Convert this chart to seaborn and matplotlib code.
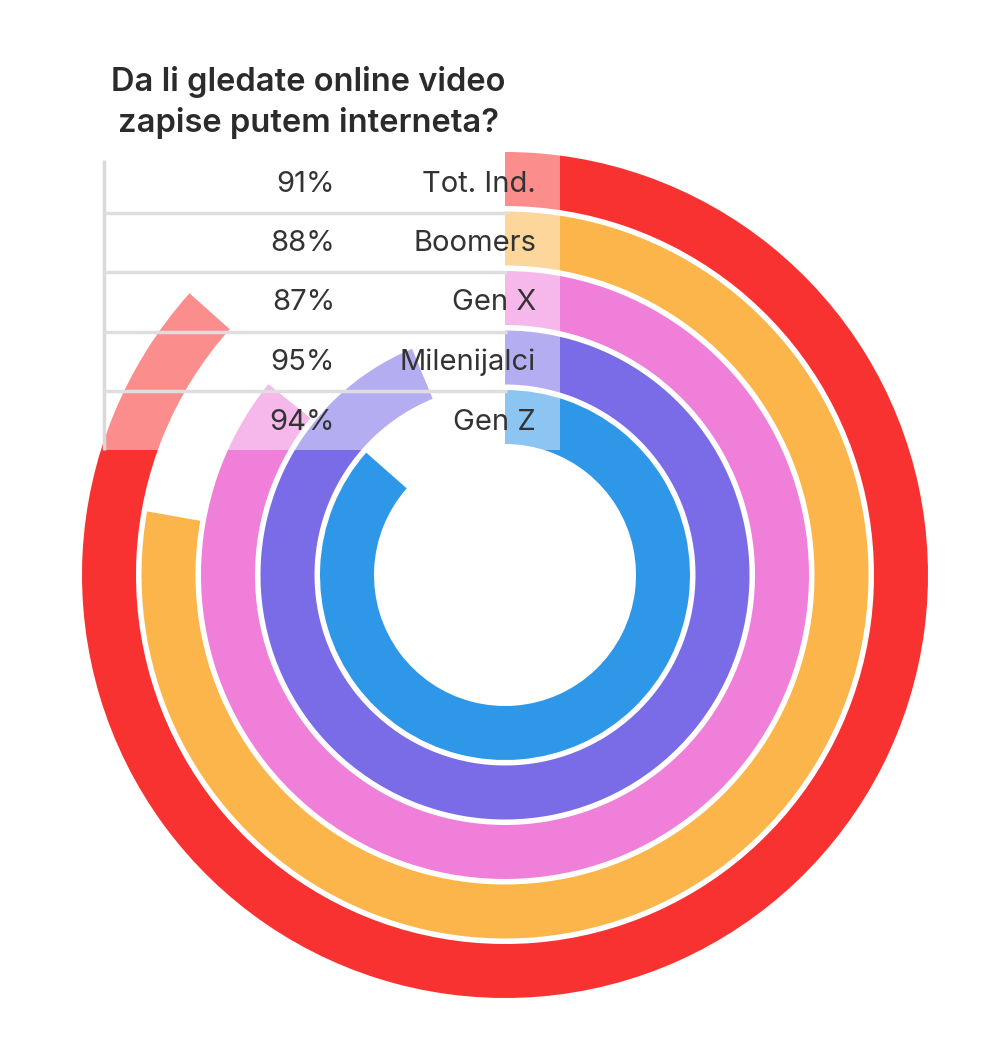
"""
Radial bar chart: Da li gledate online video zapise putem interneta?
"""
import numpy as np
import matplotlib.pyplot as plt
import seaborn as sns
from matplotlib.patches import Rectangle

# Data
categories = ['Tot. Ind.', 'Boomers', 'Gen X', 'Milenijalci', 'Gen Z']
shares = [91, 88, 87, 95, 94]                     # printed values (%)
arc_pct = [86.6, 77.8, 85.8, 93.8, 86.5]          # arc length as drawn (% of full circle)
ring_hex = ['#F83230', '#FBB54A', '#F07FD9', '#7A6BE6', '#2F97E8']
title_lines = ['Da li gledate online video', 'zapise putem interneta?']

sns.set_theme(style='white')
plt.rcParams['font.family'] = ['Inter', 'DejaVu Sans']
palette = sns.color_palette(ring_hex)

W, H = 1000, 1060
cx, cy = 505, 575          # ring centre in pixels (from top-left)
rmax = 430
r_out0, pitch, band = 423, 59.5, 54

fig = plt.figure(figsize=(W / 100, H / 100), dpi=100)
fig.patch.set_facecolor('white')

# Rings on a polar axis
ax = fig.add_axes([(cx - rmax) / W, (H - cy - rmax) / H, 2 * rmax / W, 2 * rmax / H],
                  projection='polar')
ax.set_theta_zero_location('N')
ax.set_theta_direction(-1)
ax.set_ylim(0, rmax)
r_mid = [r_out0 - i * pitch - band / 2 for i in range(len(categories))]
ax.barh(r_mid, np.deg2rad(np.array(arc_pct) * 3.6), height=band, left=0,
        color=palette, edgecolor='none', align='center')
ax.axis('off')

# Table overlay in pixel coordinates
ov = fig.add_axes([0, 0, 1, 1], zorder=5)
ov.set_xlim(0, W)
ov.set_ylim(H, 0)
ov.axis('off')
ov.patch.set_alpha(0)

top, bottom = 150, 450
ov.add_patch(Rectangle((104, top), 560 - 104, bottom - top,
                       facecolor='white', alpha=0.45, edgecolor='none'))
ov.plot([104, 104], [160, bottom], color='#d9d9d9', lw=2.5, solid_capstyle='butt')
for i in range(1, len(categories)):
    yb = cy - (r_out0 - i * pitch) + 1
    ov.plot([104, 507], [yb, yb], color='#dedede', lw=2.5, solid_capstyle='butt')

for i, (cat, val) in enumerate(zip(categories, shares)):
    yc = cy - r_mid[i] + 5
    ov.text(335, yc, f'{val}%', ha='right', va='center', fontsize=21, color='#333333')
    ov.text(536, yc, cat, ha='right', va='center', fontsize=21, color='#333333')

for yt, line in zip([82, 123], title_lines):
    ov.text(308, yt, line, ha='center', va='center', fontsize=23.5,
            fontweight='semibold', color='#2b2b2b')

plt.savefig('out.png', dpi=100, facecolor='white')
plt.close()
